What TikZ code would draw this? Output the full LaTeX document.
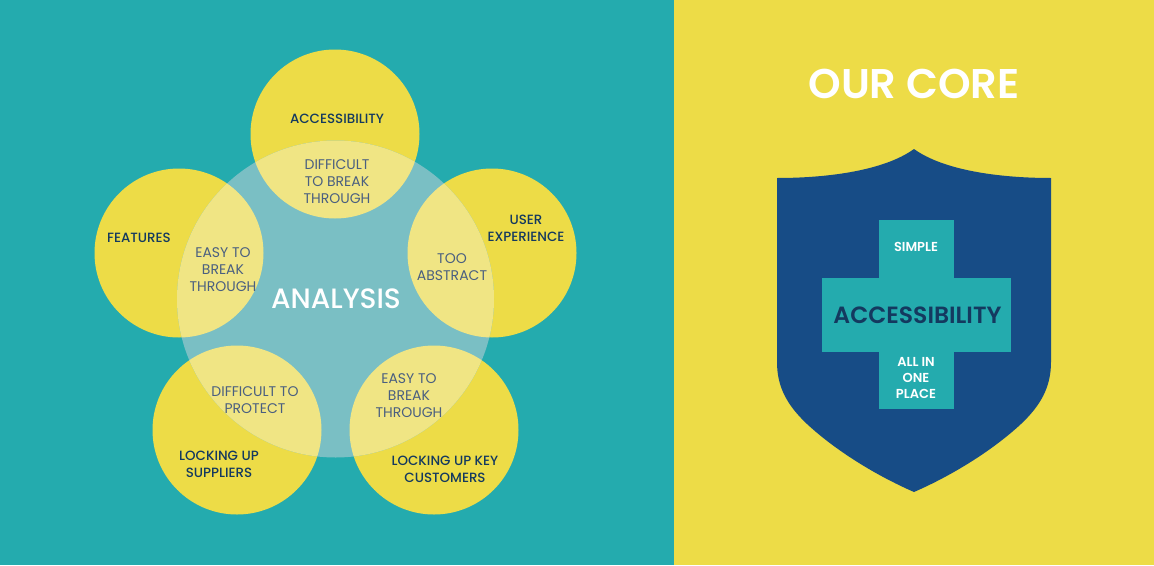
\documentclass[tikz,border=0pt]{standalone}
\usepackage{fontspec}
\setmainfont{Poppins}[BoldFont={Poppins SemiBold}]
\newfontfamily\medfont{Poppins Medium}
\usepackage{xcolor}
\definecolor{tealbg}{HTML}{24ABAE}
\definecolor{sunny}{HTML}{EDDC47}
\definecolor{shieldblue}{HTML}{174C86}
\definecolor{paleteal}{HTML}{7ABFC4}
\definecolor{paleyellow}{HTML}{F0E584}
\definecolor{darkink}{HTML}{14395F}
\definecolor{midink}{HTML}{4A5F80}
\begin{document}
\begin{tikzpicture}[x=1pt,y=-1pt]
\tikzstyle{petal} =[circle, fill = sunny,inner sep=0pt,minimum size=169pt]
\tikzstyle{lens} =[circle, fill = paleyellow,inner sep=0pt,minimum size=169pt]
\tikzstyle{outer} =[text=darkink,font=\medfont\fontsize{13.4}{17}\selectfont,align=center,inner sep=0pt]
\tikzstyle{inner} =[text=midink,font=\fontsize{14}{17}\selectfont,align=center,inner sep=0pt]
\tikzstyle{crosslabel} =[text=white,font=\fontsize{13}{16}\selectfont\bfseries,align=center,inner sep=0pt]

\useasboundingbox (0,0) rectangle (1154,565);
\fill[tealbg] (0,0) rectangle (674,565);
\fill[sunny] (674,0) rectangle (1154,565);

% five circles, then the big one, then the overlaps
\node[petal](c1) at (335,134){};
\node[petal](c2) at (492,253){};
\node[petal](c3) at (434,430){};
\node[petal](c4) at (237,430){};
\node[petal](c5) at (179,253){};
\node[circle,fill=paleteal,inner sep=0pt,minimum size=317pt](hub) at (335.5,299){};
\begin{scope}
\clip (335.5,299) circle (158.5pt);
\node[lens](l1) at (335,134){};
\node[lens](l2) at (492,253){};
\node[lens](l3) at (434,430){};
\node[lens](l4) at (237,430){};
\node[lens](l5) at (179,253){};
\end{scope}

\node[outer](t1) at (337,118.5){ACCESSIBILITY};
\node[outer](t2) at (526,228.5){USER\\EXPERIENCE};
\node[outer](t3) at (445,469.5){LOCKING UP KEY\\CUSTOMERS};
\node[outer](t4) at (219,464.5){LOCKING UP\\SUPPLIERS};
\node[outer](t5) at (139,237.5){FEATURES};

\node[inner](i1) at (337,181.5){DIFFICULT\\TO BREAK\\THROUGH};
\node[inner](i2) at (452,267.5){TOO\\ABSTRACT};
\node[inner](i3) at (409,395.5){EASY TO\\BREAK\\THROUGH};
\node[inner](i4) at (255,400.5){DIFFICULT TO\\PROTECT};
\node[inner](i5) at (223,269.5){EASY TO\\BREAK\\THROUGH};
\node[text=white,font=\medfont\fontsize{28}{32}\selectfont,inner sep=0pt](analysis) at (336,298.5){ANALYSIS};

\node[text=white,font=\fontsize{41.5}{46}\selectfont\bfseries,inner sep=0pt](core) at (914,84){OUR CORE};

\fill[shieldblue] (914,149) .. controls (885,170) and (830,178) .. (777,178)
  -- (777,362) .. controls (777,388) and (788,406) .. (807,424)
  .. controls (835,450) and (875,475) .. (914,492)
  .. controls (953,475) and (993,450) .. (1021,424)
  .. controls (1040,406) and (1051,388) .. (1051,362) -- (1051,178)
  .. controls (998,178) and (943,170) .. (914,149) -- cycle;
\fill[tealbg] (879,220) rectangle (954,409);
\fill[tealbg] (822,278) rectangle (1011,352);

\node[crosslabel](simple) at (916,246.5){SIMPLE};
\node[text=darkink,font=\fontsize{23.5}{28}\selectfont\bfseries,inner sep=0pt](access) at (917.5,315){ACCESSIBILITY};
\node[crosslabel](place) at (916,377.5){ALL IN\\ONE\\PLACE};
\end{tikzpicture}
\end{document}
